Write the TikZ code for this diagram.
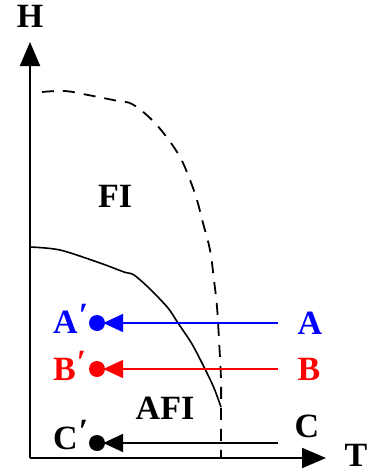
\documentclass[tikz,border=0pt]{standalone}
\usepackage{fontspec}
\setmainfont{Liberation Serif}
\usetikzlibrary{arrows.meta}
\newcommand{\prm}{\raisebox{7pt}{\kern1pt ′}}
\begin{document}
\begin{tikzpicture}[x=1pt,y=-1pt,
  lbl/.style={font=\fontsize{34}{34}\selectfont\bfseries, inner sep=0pt},
  dot/.style={circle, fill, inner sep=0pt, minimum size=16pt},
  axis/.style={line width=2pt, -{Triangle[length=24pt,width=20pt]}},
  hline/.style={line width=2pt, -{Triangle[length=20pt,width=18pt]}, shorten >=-2pt},
  dashcurve/.style={line width=1.8pt, dash pattern=on 12pt off 9pt},
  solidcurve/.style={line width=1.6pt}]
\useasboundingbox (0,0) rectangle (368,474);
% axes
\coordinate (O) at (30,458);
\coordinate (Htip) at (30,42);
\coordinate (Ttip) at (326,458);
\draw[axis] (O) -- (Htip);
\draw[axis] (O) -- (Ttip);
\node[lbl] (H) at (30,16) {H};
\node[lbl, anchor=base] (T) at (356,466) {T};
% phase boundaries
\draw[dashcurve] plot[smooth, tension=0.6] coordinates {(42,92) (65,91) (88,95) (118,101) (132,104) (150,118) (165,135) (180,157) (190,180) (197,200) (203,223) (210,250) (214,280) (217,307) (219,340) (221,380) (221,420) (221,458)};
\draw[solidcurve] plot[smooth, tension=0.5] coordinates {(30,247) (60,250) (100,263) (124,272) (134,275) (150,289) (168,308) (178,323) (192,344) (205,369) (214,388) (221,407)};
% region labels
\node[lbl] (FI) at (115,196) {FI};
\node[lbl] (AFI) at (165,408) {AFI};
% points
\node[dot, blue] (Ad) at (97,323) {};
\node[dot, red] (Bd) at (97,369) {};
\node[dot, black] (Cd) at (97,443) {};
\node[lbl, blue] (A) at (310,323) {A};
\node[lbl, red] (B) at (309,369) {B};
\node[lbl] (C) at (307,426) {C};
\node[lbl, blue, anchor=base west] (Ap) at (53,333) {A\prm};
\node[lbl, red, anchor=base west] (Bp) at (53,380) {B\prm};
\node[lbl, anchor=base west] (Cp) at (53,449) {C\prm};
\coordinate (As) at (278,323);
\coordinate (Bs) at (278,369);
\coordinate (Cs) at (278,443);
\draw[hline, blue] (As) -- (Ad.east);
\draw[hline, red] (Bs) -- (Bd.east);
\draw[hline, black] (Cs) -- (Cd.east);
\end{tikzpicture}
\end{document}
